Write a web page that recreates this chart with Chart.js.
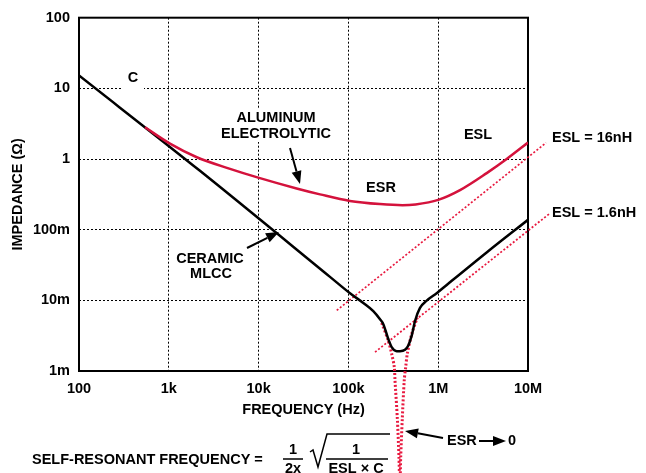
<!DOCTYPE html>
<html>
<head>
<meta charset="utf-8">
<script src="https://cdn.jsdelivr.net/npm/chart.js@4.4.1/dist/chart.umd.min.js"></script>
<style>
  html, body { margin: 0; padding: 0; background: #fff; }
</style>
</head>
<body>
<canvas id="impedanceChart" width="646" height="473"></canvas>
<script>
// axis ticks
const xTicks = [1e2, 1e3, 1e4, 1e5, 1e6, 1e7];
const xTickLabels = ['100', '1k', '10k', '100k', '1M', '10M'];
const yTicks = [1e-3, 1e-2, 1e-1, 1, 10, 100];
const yTickLabels = ['1m', '10m', '100m', '1', '10', '100'];

// aluminum electrolytic (Hz, ohm)
const aluFreq = [543, 1030, 2050, 4810, 9900, 26500, 48300, 104000, 225000, 400000, 560000, 1000000, 1750000, 3470000, 5790000, 10000000];
const aluZ = [2.81, 1.65, 1.06, 0.726, 0.545, 0.383, 0.316, 0.255, 0.23, 0.222, 0.228, 0.264, 0.363, 0.632, 1.0, 1.71];

// ceramic MLCC
const mlccFreq = [100, 2223, 62370, 104200, 146600, 189300, 224900, 244800, 278000, 303400, 345100, 375600, 426900, 464500, 506900, 552000, 627000, 745000, 961700, 1244000, 3490000, 10000000];
const mlccZ = [15.2, 0.681, 0.0215, 0.0126, 0.00917, 0.00703, 0.0054, 0.0046, 0.00284, 0.00218, 0.00191, 0.00191, 0.002, 0.0023, 0.00316, 0.0051, 0.0078, 0.0099, 0.0126, 0.0165, 0.048, 0.138];

// ESL reference lines
const esl16Freq = [74200, 15900000];
const esl16Z = [0.0072, 1.7];
const esl16nFreq = [198000, 17300000];
const esl16nZ = [0.00185, 0.168];

// ESR -> 0 resonance
const esr0Freq = [235000, 278000, 303000, 324000, 330000, 351000, 366000, 374000, 382000, 398000, 419000, 435000, 453000, 507000, 585000];
const esr0Z = [0.0048, 0.0027, 0.00176, 0.00115, 0.00075, 0.000208, 0.000058, 0.00002, 0.000058, 0.000208, 0.00075, 0.00115, 0.00176, 0.00334, 0.0057];

const RED = '#d4123c';
const DOT_RED = '#e8193f';
const FONT = '"Liberation Sans", Arial, sans-serif';
const FSIZE = 14.5;

function pts(fs, zs) {
    return fs.map((f, i) => ({ x: f, y: zs[i] }));
}

function arrow(ctx, x1, y1, x2, y2) {
    const ang = Math.atan2(y2 - y1, x2 - x1);
    const len = 13, half = 5;
    const bx = x2 - len * Math.cos(ang), by = y2 - len * Math.sin(ang);
    ctx.beginPath();
    ctx.moveTo(x1, y1);
    ctx.lineTo(bx, by);
    ctx.stroke();
    ctx.beginPath();
    ctx.moveTo(x2, y2);
    ctx.lineTo(bx + half * Math.sin(ang), by - half * Math.cos(ang));
    ctx.lineTo(bx - half * Math.sin(ang), by + half * Math.cos(ang));
    ctx.closePath();
    ctx.fill();
}

const annotations = {
    id: 'annotations',
    beforeDatasetsDraw(chart) {
        const { ctx, chartArea: a } = chart;
        ctx.save();
        // gaps in the grid behind labels
        ctx.fillStyle = '#fff';
        ctx.fillRect(123, 72, 21, 18);
        ctx.fillRect(216, 109, 121, 33);
        // frame
        ctx.strokeStyle = '#000';
        ctx.lineWidth = 2;
        ctx.strokeRect(a.left, a.top, a.right - a.left, a.bottom - a.top);
        ctx.restore();
    },
    afterDatasetsDraw(chart) {
        const ctx = chart.ctx;
        ctx.save();
        ctx.fillStyle = '#000';
        ctx.strokeStyle = '#000';
        ctx.font = 'bold ' + FSIZE + 'px ' + FONT;
        ctx.textBaseline = 'middle';
        ctx.textAlign = 'center';
        ctx.fillText('C', 133, 78);
        ctx.fillText('ALUMINUM', 276, 118);
        ctx.fillText('ELECTROLYTIC', 276, 134);
        ctx.fillText('ESR', 381, 188);
        ctx.fillText('ESL', 478, 135);
        ctx.fillText('CERAMIC', 210, 259);
        ctx.fillText('MLCC', 211, 274);
        ctx.textAlign = 'left';
        ctx.fillText('ESL = 16nH', 552, 138);
        ctx.fillText('ESL = 1.6nH', 552, 213);

        ctx.lineWidth = 2;
        arrow(ctx, 290, 148, 300, 184);
        arrow(ctx, 247, 248, 279, 232);
        arrow(ctx, 443, 438, 405, 431);

        // ESR -> 0
        ctx.fillText('ESR', 447, 441);
        arrow(ctx, 479, 441, 506, 441);
        ctx.fillText('0', 508, 441);

        // self-resonant frequency formula
        ctx.fillText('SELF-RESONANT FREQUENCY =', 32, 460);
        ctx.textAlign = 'center';
        ctx.fillText('1', 293, 450);
        ctx.fillText('2x', 293, 469);
        ctx.fillText('1', 356, 450);
        ctx.fillText('ESL \u00d7 C', 356, 469);
        ctx.lineWidth = 1.5;
        ctx.beginPath();
        ctx.moveTo(283, 459); ctx.lineTo(303, 459);
        ctx.moveTo(326, 459); ctx.lineTo(388, 459);
        ctx.stroke();
        ctx.beginPath();
        ctx.moveTo(310, 452);
        ctx.lineTo(313, 450);
        ctx.lineTo(318, 467);
        ctx.lineTo(327, 434);
        ctx.lineTo(390, 434);
        ctx.stroke();
        ctx.restore();
    }
};

const ctx = document.getElementById('impedanceChart').getContext('2d');
const impedanceChart = new Chart(ctx, {
    type: 'line',
    data: {
        datasets: [
            {
                label: 'Aluminum electrolytic',
                data: pts(aluFreq, aluZ),
                borderColor: RED,
                borderWidth: 2.5,
                cubicInterpolationMode: 'monotone'
            },
            {
                label: 'Ceramic MLCC',
                data: pts(mlccFreq, mlccZ),
                borderColor: '#000',
                borderWidth: 2.5,
                cubicInterpolationMode: 'monotone'
            },
            {
                label: 'ESL = 16nH',
                data: pts(esl16Freq, esl16Z),
                borderColor: DOT_RED,
                borderWidth: 1.8,
                borderDash: [2, 2],
                clip: false
            },
            {
                label: 'ESL = 1.6nH',
                data: pts(esl16nFreq, esl16nZ),
                borderColor: DOT_RED,
                borderWidth: 1.8,
                borderDash: [2, 2],
                clip: false
            },
            {
                label: 'ESR -> 0',
                data: pts(esr0Freq, esr0Z),
                borderColor: DOT_RED,
                borderWidth: 3,
                borderDash: [2, 2],
                tension: 0.3,
                clip: false
            }
        ]
    },
    options: {
        responsive: false,
        animation: false,
        layout: { padding: { left: 0, right: 118, top: 11, bottom: 52 } },
        plugins: {
            legend: { display: false },
            tooltip: { enabled: false }
        },
        elements: { point: { radius: 0 } },
        scales: {
            x: {
                type: 'logarithmic',
                min: 100,
                max: 1e7,
                afterBuildTicks: s => { s.ticks = xTicks.map(v => ({ value: v })); },
                afterFit: s => { s.height = 50; },
                grid: { color: '#000', lineWidth: 1, drawTicks: false },
                border: { display: false, dash: [2, 2] },
                ticks: {
                    autoSkip: false,
                    maxRotation: 0,
                    padding: 9,
                    color: '#000',
                    font: { family: FONT, size: FSIZE, weight: 'bold' },
                    callback: (v, i) => xTickLabels[i]
                },
                title: {
                    display: true,
                    text: 'FREQUENCY (Hz)',
                    color: '#000',
                    font: { family: FONT, size: FSIZE, weight: 'bold' },
                    padding: { top: 2, bottom: 2 }
                }
            },
            y: {
                type: 'logarithmic',
                min: 1e-3,
                max: 100,
                afterBuildTicks: s => { s.ticks = yTicks.map(v => ({ value: v })); },
                afterFit: s => { s.width = 79; },
                grid: { color: '#000', lineWidth: 1, drawTicks: false },
                border: { display: false, dash: [2, 2] },
                ticks: {
                    autoSkip: false,
                    padding: 9,
                    color: '#000',
                    font: { family: FONT, size: FSIZE, weight: 'bold' },
                    callback: (v, i) => yTickLabels[i]
                },
                title: {
                    display: true,
                    text: 'IMPEDANCE (\u03a9)',
                    color: '#000',
                    font: { family: FONT, size: FSIZE, weight: 'bold' },
                    padding: { top: 9, bottom: 9 }
                }
            }
        }
    },
    plugins: [annotations]
});
</script>
</body>
</html>
